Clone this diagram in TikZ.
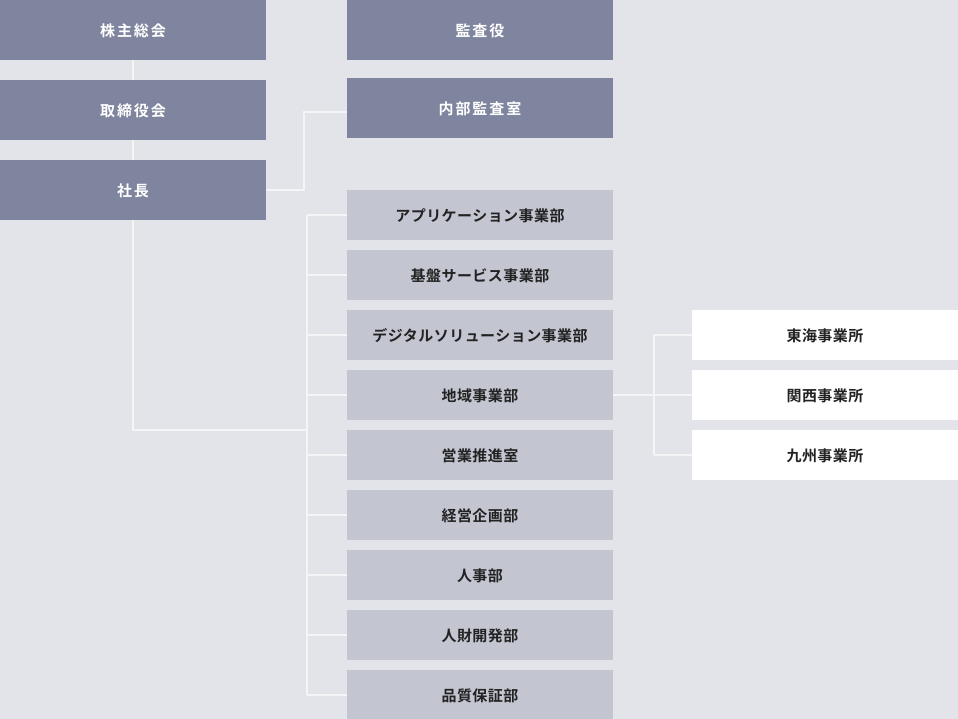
\documentclass[tikz,border=0pt]{standalone}
\usepackage{fontspec}
\newfontfamily\jpfont[LetterSpace=3]{Noto Sans CJK JP Bold}
\newfontfamily\jpwide[LetterSpace=13]{Noto Sans CJK JP Bold}
\definecolor{Ground}{HTML}{E3E4EA}
\definecolor{Slate}{HTML}{7F859E}
\definecolor{Mist}{HTML}{C3C5D1}
\definecolor{Wire}{HTML}{F5F5F8}
\definecolor{Ink}{HTML}{222222}

\begin{document}
\begin{tikzpicture}[
  x=1pt, y=-1pt,
  box/.style = {inner sep=0pt, minimum width=266pt, text depth=0pt, font=\fontsize{15pt}{15pt}\jpfont},
  board/.style = {box, fill=Slate, text=white, minimum height=60pt, font=\fontsize{15pt}{15pt}\jpwide},
  dept/.style = {box, fill=Mist, text=Ink, minimum height=50pt},
  office/.style = {box, fill=white, text=Ink, minimum height=50pt},
  wire/.style = {draw=Wire, line width=1.6pt}
  ]
  \fill[Ground] (0,0) rectangle (958,719);
  \useasboundingbox (0,0) rectangle (958,719);
  %
  \node[board] (S1) at (133,30)  {株主総会};
  \node[board] (S2) at (133,110) {取締役会};
  \node[board] (S3) at (133,190) {社長};
  \node[board] (A1) at (480,30)  {監査役};
  \node[board] (A2) at (480,108) {内部監査室};
  %
  \foreach \name [count=\i] in {アプリケーション事業部,基盤サービス事業部,
      デジタルソリューション事業部,地域事業部,営業推進室,経営企画部,
      人事部,人財開発部,品質保証部} {
    \node[dept] (D\i) at (480,{155+60*\i}) {\name};
  }
  \node[office] (B1) at (825,335) {東海事業所};
  \node[office] (B2) at (825,395) {関西事業所};
  \node[office] (B3) at (825,455) {九州事業所};
  %
  \coordinate (bus) at (307,0);
  \coordinate (hub) at (654,0);
  \coordinate (J) at (307,430);
  \draw[wire] (S1) -- (S2);
  \draw[wire] (S2) -- (S3);
  \draw[wire] (S3.east) -- ++(38,0) |- ([yshift=-4pt]A2.west);
  \draw[wire] (S3.south) |- (J);
  \draw[wire] (D1.west -| bus) -- (D9.west -| bus);
  \foreach \i in {1,...,9} {
    \draw[wire] (D\i.west) -- (D\i.west -| bus);
  }
  \draw[wire] (D4.east) -- (B2.west);
  \draw[wire] (B1.west -| hub) -- (B3.west -| hub);
  \draw[wire] (B1.west) -- (B1.west -| hub);
  \draw[wire] (B3.west) -- (B3.west -| hub);
\end{tikzpicture}
\end{document}
